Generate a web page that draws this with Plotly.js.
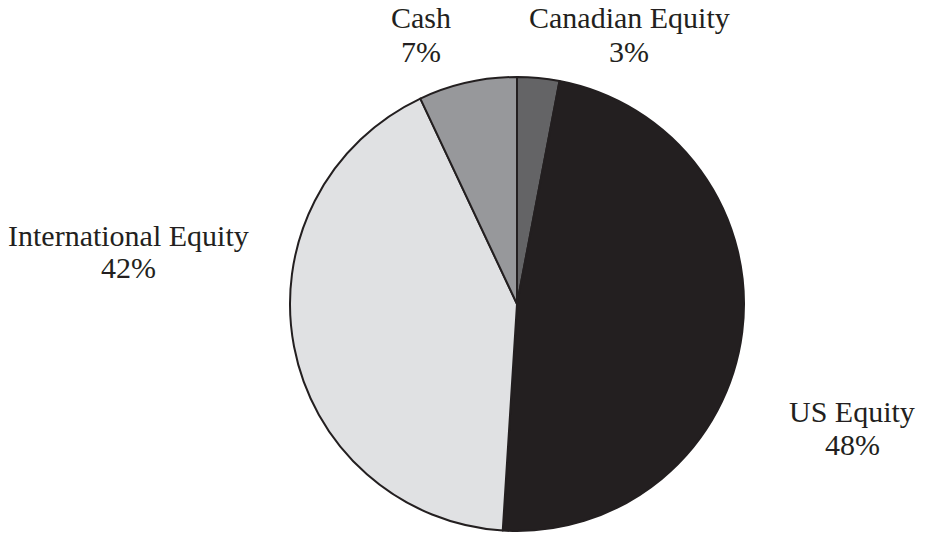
<!DOCTYPE html>
<html>
<head>
<meta charset="utf-8">
<script src="https://cdn.plot.ly/plotly-3.0.1.min.js"></script>
<style>html,body{margin:0;padding:0;background:#fff;}#chart{width:926px;height:533px;}</style>
</head>
<body>
<div id="chart"></div>
<script>
// Data
const categories = ["Canadian Equity", "US Equity", "International Equity", "Cash"];
const values = [3, 48, 42, 7];

// Styling / layout (not data)
const colors = ["#646466", "#231f20", "#e0e1e3", "#97989b"];
const labelPos = [
  {x: 629, y: 18, y2: 51},
  {x: 852, y: 411, y2: 444},
  {x: 128, y: 235, y2: 267},
  {x: 421, y: 18, y2: 51}
];

const W = 926, H = 533;
const total = values.reduce((a, b) => a + b, 0);
const fnt = {family: "Liberation Serif, Times New Roman, serif", size: 30, color: "#231f20"};

const annotations = [];
categories.forEach((c, i) => {
  annotations.push({
    xref: "paper", yref: "paper",
    x: labelPos[i].x / W, y: 1 - labelPos[i].y / H,
    xanchor: "center", yanchor: "middle",
    text: c, showarrow: false, font: fnt
  });
  annotations.push({
    xref: "paper", yref: "paper",
    x: labelPos[i].x / W, y: 1 - labelPos[i].y2 / H,
    xanchor: "center", yanchor: "middle",
    text: Math.round(values[i] / total * 100) + "%", showarrow: false, font: fnt
  });
});

const trace = {
  type: "pie",
  labels: categories,
  values: values,
  sort: false,
  direction: "clockwise",
  rotation: 0,
  textinfo: "none",
  hoverinfo: "label+percent",
  marker: {colors: colors, line: {color: "#231f20", width: 2}},
  domain: {x: [290 / W, 744 / W], y: [1 - 531 / H, 1 - 77 / H]},
  showlegend: false
};

Plotly.newPlot("chart", [trace], {
  width: W, height: H,
  margin: {l: 0, r: 0, t: 0, b: 0},
  paper_bgcolor: "#ffffff",
  plot_bgcolor: "#ffffff",
  showlegend: false,
  annotations: annotations
}, {staticPlot: true});
</script>
</body>
</html>
